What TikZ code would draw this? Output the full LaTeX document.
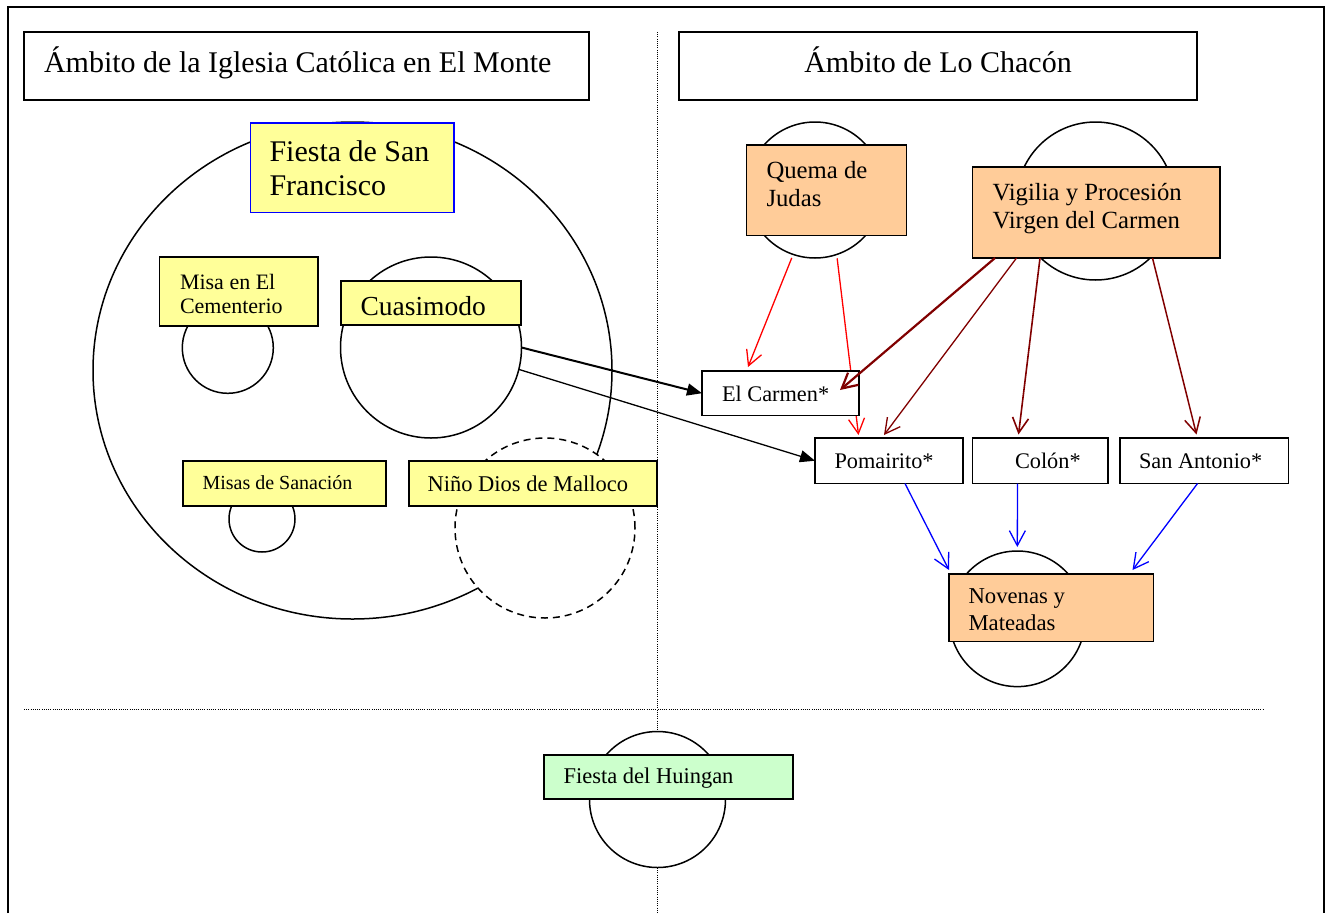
\documentclass[tikz,border=0pt]{standalone}
\usepackage{fontspec}
\setmainfont{Liberation Serif}
\usetikzlibrary{arrows.meta,calc}
\definecolor{yel}{HTML}{FFFF99}
\definecolor{ora}{HTML}{FFCC99}
\definecolor{grn}{HTML}{CCFFCC}
\definecolor{dred}{HTML}{800000}
\definecolor{bblue}{HTML}{0000FF}
\definecolor{rred}{HTML}{FF0000}
\begin{document}
\begin{tikzpicture}[x=1pt,y=1pt,
  box/.style={draw, line width=1.7pt, rectangle, inner ysep=0pt, outer sep=0pt, align=left, anchor=north west,
    execute at begin node={\spaceskip=0pt\xspaceskip=0pt\relax}},
  ring/.style={draw, circle, fill=white, line width=1.5pt, inner sep=0pt, outer sep=0pt},
  vee/.style={-{Straight Barb[length=15pt,width=16pt]}, line width=1.3pt},
  tri/.style={-{Triangle[length=15pt,width=12pt]}, line width=1.3pt},
  dots/.style={dash pattern=on 1pt off 1.2pt, line width=0.8pt}
]
\useasboundingbox (0,0) rectangle (1330,-913);
% frame and separators
\draw[line width=2.4pt] (8,-913) -- (8,-7) -- (1324,-7) -- (1324,-913);
\draw[dots] (657,-32) -- (657,-913);
\draw[dots] (24,-709.5) -- (1263,-709.5);
% big ellipse (Fiesta de San Francisco)
\draw[line width=1.5pt] (352.5,-370.5) ellipse [x radius=259.5, y radius=248.5];
% circles
\node[ring, minimum size=91pt] (misaC) at (227.8,-347.8) {};
\node[ring, minimum size=181pt] (cuasiC) at (431,-347.5) {};
\node[ring, minimum size=66pt] (sanC) at (262,-519) {};
\node[ring, dash pattern=on 7pt off 5pt, minimum size=180pt] (ninoC) at (545,-528) {};
\node[ring, minimum size=136pt] (qjC) at (815,-190) {};
\node[ring, minimum size=158pt] (vigC) at (1095.5,-201) {};
\node[ring, minimum size=135.6pt] (novC) at (1017.3,-618.8) {};
\node[ring, minimum size=136pt] (huiC) at (657.5,-799.5) {};
% connector that passes under the El Carmen box
\coordinate (pomtip) at (858.5,-435);
% boxes
\node[box, fill=white, minimum width=565pt, minimum height=68pt, text width=525pt, inner xsep=20pt,
  text height=12pt, text depth=0pt,
  font=\fontsize{30}{34}\selectfont] (t1) at (24,-32) {Ámbito de la Iglesia Católica en El Monte};
\node[box, fill=white, minimum width=518pt, minimum height=68pt, text width=478pt, inner xsep=20pt,
  text height=12pt, text depth=0pt,
  font=\fontsize{30}{34}\selectfont] (t2) at (679,-32) {\makebox[478pt]{Ámbito de Lo Chacón}};
\node[box, fill=yel, draw=bblue, minimum width=203.5pt, minimum height=89.5pt, text width=165.5pt, inner xsep=19pt,
  text height=0pt, text depth=12.1pt,
  font=\fontsize{30}{33.3}\selectfont] (fsf) at (250.5,-123) {Fiesta de San\\Francisco};
\node[box, fill=yel, minimum width=158.5pt, minimum height=69pt, text width=117.5pt, inner xsep=20.5pt,
  text height=0pt, text depth=4.4pt,
  font=\fontsize{22}{24}\selectfont] (misa) at (159.5,-257) {Misa en El\\Cementerio};
\node[box, fill=yel, minimum width=180pt, minimum height=44pt, text width=141pt, inner xsep=19.5pt,
  text height=24pt, text depth=0pt,
  font=\fontsize{27.5}{31}\selectfont] (cuasi) at (341,-281) {Cuasimodo};
\node[box, fill=yel, minimum width=203pt, minimum height=45pt, text width=164pt, inner xsep=19.5pt,
  text height=11.6pt, text depth=0pt,
  font=\fontsize{20}{23}\selectfont] (sanac) at (183,-461) {Misas de Sanación};
\node[box, fill=yel, minimum width=248pt, minimum height=45pt, text width=211pt, inner xsep=18.5pt,
  text height=15pt, text depth=0pt,
  font=\fontsize{22.5}{26}\selectfont] (nino) at (409,-461) {Niño Dios de Malloco};
\node[box, fill=ora, minimum width=160pt, minimum height=90.5pt, text width=120pt, inner xsep=20pt,
  text height=0pt, text depth=23.9pt,
  font=\fontsize{24.7}{28.5}\selectfont] (quema) at (746.5,-145) {Quema de\\Judas};
\node[box, fill=ora, minimum width=247.5pt, minimum height=91pt, text width=207.5pt, inner xsep=20pt,
  text height=0pt, text depth=25pt,
  font=\fontsize{24.7}{28.3}\selectfont] (vig) at (972.5,-167) {Vigilia y Procesión\\Virgen del Carmen};
% red arrow drawn beneath the El Carmen box
\draw[vee, rred] ([yshift=-4pt]qjC.-71) -- (pomtip);
\node[box, fill=white, minimum width=157pt, minimum height=44.5pt, text width=117pt, inner xsep=20pt,
  text height=16.9pt, text depth=0pt,
  font=\fontsize{22.3}{26}\selectfont] (elc) at (702,-371) {El Carmen*};
\node[box, fill=white, minimum width=148pt, minimum height=45.5pt, text width=109pt, inner xsep=19.5pt,
  text height=15.1pt, text depth=0pt,
  font=\fontsize{22.3}{26}\selectfont] (pom) at (815,-438) {Pomairito*};
\node[box, fill=white, minimum width=135.5pt, minimum height=45.5pt, text width=95.5pt, inner xsep=20pt,
  text height=15.1pt, text depth=0pt,
  font=\fontsize{22.3}{26}\selectfont] (col) at (972.5,-438) {\hspace*{22.5pt}Colón*};
\node[box, fill=white, minimum width=168.5pt, minimum height=45.5pt, text width=130.5pt, inner xsep=19pt,
  text height=15.1pt, text depth=0pt,
  font=\fontsize{22.3}{26}\selectfont] (sa) at (1120,-438) {San Antonio*};
\node[box, fill=ora, minimum width=204.5pt, minimum height=67.5pt, text width=165.5pt, inner xsep=19.5pt,
  text height=0pt, text depth=8.9pt,
  font=\fontsize{22.7}{26.7}\selectfont] (nov) at (949,-574) {Novenas y\\Mateadas};
\node[box, fill=grn, minimum width=249pt, minimum height=44pt, text width=210pt, inner xsep=19.5pt,
  text height=12.6pt, text depth=0pt,
  font=\fontsize{22.5}{26}\selectfont] (hui) at (544,-755) {Fiesta del Huingan};
% black arrows
\draw[tri, line width=2pt] (cuasiC.east) -- (elc.west);
\draw[tri] (cuasiC.-14) -- (pom.west);
% red arrow
\draw[vee, rred] ([yshift=-4pt]qjC.-110) -- ([xshift=46pt,yshift=4pt]elc.north west);
% dark red arrows
\draw[vee, dred, line width=2.2pt] ([xshift=22.5pt]vig.south west) -- ([xshift=-19pt,yshift=-19pt]elc.north east);
\draw[vee, dred] ([xshift=44pt]vig.south west) -- ([xshift=69pt,yshift=3pt]pom.north west);
\draw[vee, dred, line width=1.6pt] ([xshift=67.5pt]vig.south west) -- ([xshift=46pt,yshift=3.5pt]col.north west);
\draw[vee, dred, line width=1.5pt] ([xshift=-67.5pt]vig.south east) -- ([xshift=76.5pt,yshift=3.5pt]sa.north west);
% blue arrows
\draw[vee, bblue] ([xshift=90pt]pom.south west) -- ([yshift=4pt]nov.north west);
\draw[vee, bblue] ([xshift=45pt]col.south west) -- ([yshift=4pt]novC.north);
\draw[vee, bblue] ([xshift=77.5pt]sa.south west) -- ([xshift=-21pt,yshift=4pt]nov.north east);
\end{tikzpicture}
\end{document}
